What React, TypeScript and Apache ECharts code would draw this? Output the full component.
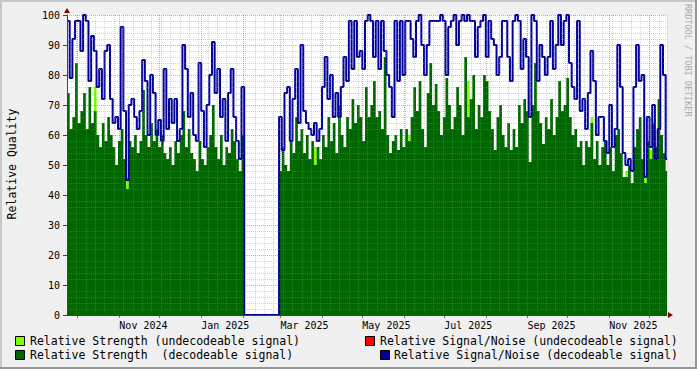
import React, { useEffect, useRef } from 'react';
import * as echarts from 'echarts';

// ---- time frame (2-day samples starting Sep 23 2024) ----
const START_DATE = [2024, 8, 23];
const SPAN_DAYS = 447;
const STEP_DAYS = 2;

// month grid lines and labels
const monthTicks = ['2024-10', '2024-11', '2024-12', '2025-01', '2025-02', '2025-03', '2025-04', '2025-05', '2025-06', '2025-07', '2025-08', '2025-09', '2025-10', '2025-11', '2025-12'];
const monthLabels = ['2024-11', '2025-01', '2025-03', '2025-05', '2025-07', '2025-09', '2025-11'];
const monthNames = ['Jan', 'Feb', 'Mar', 'Apr', 'May', 'Jun', 'Jul', 'Aug', 'Sep', 'Oct', 'Nov', 'Dec'];

// Relative Signal/Noise (decodeable signal)
const snDecoded = [
  98, 79, 92, 98, 98, 88, 100, 98, 78, 93, 88, 76, 82, 72, 88, 90, 72, 64, 66, 62,
  96, 68, 45, 70, 72, 66, 62, 68, 85, 78, 60, 80, 74, 60, 65, 58,
  82, 62, 72, 64, 72, 58, 62, 90, 82, 66, 74, 60, 58, 84, 68, 56, 70, 80, 91, 74,
  82, 66, 72, 58, 74, 82, 66, 58, 52, 76,
  0, 0, 0, 0, 0, 0, 0, 0, 0, 0, 0, 0, 0,
  66, 55, 74, 76, 58, 72, 82, 64, 90, 68, 64, 62, 60, 64, 58, 62, 76, 86, 72, 80,
  66, 74, 66, 76, 86, 78, 98, 82, 98, 86,
  88, 82, 98, 100, 98, 86, 98, 82, 98, 88, 80, 76, 66, 98, 78, 98, 80, 98, 98, 92,
  86, 98, 100, 90, 80, 90, 98, 98, 98, 98, 100, 98, 80, 96, 98, 100, 90,
  98, 100, 98, 100, 98, 98, 86, 96, 98, 100, 86, 98, 92, 90, 80, 86, 98, 98, 86, 78,
  98, 100, 98, 82, 92, 86, 66, 100, 98, 78, 90, 86, 80, 86, 98, 82,
  90, 100, 90, 98, 100, 84, 76, 72, 98, 68, 72, 62, 74, 88, 78, 60, 66, 66, 58, 54,
  70, 56, 62, 90, 76, 54, 50, 52, 48, 76, 90, 78, 80, 46, 66, 56, 70, 52, 62, 90,
  80, 52,
];

// Relative Strength (decodeable signal)
const strengthDecoded = [
  74, 62, 66, 84, 64, 68, 74, 62, 76, 64, 68, 60, 56, 64, 58, 66, 60, 56, 50, 58,
  62, 52, 42, 58, 56, 60, 54, 58, 75, 60, 56, 64, 58, 62, 56, 60,
  54, 52, 56, 50, 58, 54, 60, 68, 56, 62, 54, 52, 48, 58, 52, 50, 56, 60, 70, 56,
  52, 60, 50, 56, 54, 62, 58, 52, 48, 60,
  0, 0, 0, 0, 0, 0, 0, 0, 0, 0, 0, 0, 0,
  48, 56, 50, 48, 58, 54, 66, 58, 62, 54, 60, 52, 58, 50, 56, 52, 60, 56, 66, 58,
  64, 54, 70, 60, 56, 66, 62, 72, 64, 70,
  66, 58, 76, 66, 70, 78, 66, 68, 62, 86, 60, 54, 58, 60, 55, 62, 56, 62, 58, 66,
  76, 68, 78, 62, 56, 74, 84, 70, 77, 68, 60, 66, 79, 70, 62, 66, 76,
  70, 60, 86, 66, 72, 80, 62, 70, 66, 80, 78, 68, 62, 55, 66, 70, 60, 56, 64, 55,
  62, 56, 70, 64, 72, 68, 51, 70, 84, 68, 64, 57, 66, 62, 72, 60,
  66, 78, 68, 70, 79, 66, 60, 62, 56, 58, 50, 58, 56, 64, 52, 58, 50, 56, 58, 50,
  56, 48, 60, 62, 54, 46, 46, 50, 44, 56, 62, 66, 52, 44, 58, 52, 64, 56, 72, 60,
  54, 48,
];

// Relative Strength (undecodeable signal)
const strengthUndecoded = [
  0, 0, 0, 0, 0, 0, 0, 0, 0, 0, 76, 0, 0, 0, 0, 0,
  0, 0, 0, 0, 0, 0, 46, 0, 0, 0, 0, 0, 0, 0, 0, 0,
  0, 0, 0, 0, 0, 0, 0, 0, 0, 0, 0, 0, 0, 0, 0, 0,
  0, 0, 0, 0, 0, 0, 0, 0, 0, 0, 0, 0, 0, 0, 0, 0,
  0, 0, 0, 0, 0, 0, 0, 0, 0, 0, 0, 0, 0, 0, 0, 0,
  0, 0, 0, 0, 0, 0, 0, 0, 0, 0, 0, 0, 56, 0, 0, 0,
  0, 0, 0, 0, 0, 0, 0, 0, 0, 0, 0, 0, 0, 0, 0, 0,
  0, 0, 0, 0, 0, 0, 0, 0, 0, 0, 0, 0, 0, 0, 0, 60,
  0, 0, 0, 0, 0, 0, 0, 0, 0, 0, 0, 0, 0, 0, 0, 0,
  0, 0, 0, 0, 0, 78, 0, 0, 0, 0, 0, 0, 0, 0, 0, 0,
  0, 0, 0, 0, 0, 0, 0, 0, 0, 0, 0, 0, 0, 0, 0, 0,
  0, 0, 0, 0, 0, 0, 0, 0, 0, 0, 0, 0, 0, 0, 0, 0,
  0, 0, 0, 66, 0, 0, 0, 0, 0, 0, 0, 0, 0, 0, 0, 0,
  48, 0, 0, 0, 0, 0, 0, 47, 0, 55, 0, 0, 0, 0, 0, 0,
];

const legendItems = [
  { text: 'Relative Strength (undecodeable signal)', color: '#7FFF00' },
  { text: 'Relative Signal/Noise (undecodeable signal)', color: '#FF0000' },
  { text: 'Relative Strength  (decodeable signal)', color: '#006600' },
  { text: 'Relative Signal/Noise (decodeable signal)', color: '#000099' },
];

const FONT = '"DejaVu Sans Mono", monospace';
const DAY = 86400000;

export default function App() {
  const ref = useRef<HTMLDivElement>(null);
  useEffect(() => {
    if (!ref.current) return;
    const chart = echarts.init(ref.current, undefined, { renderer: 'svg' });
    const t0 = Date.UTC(START_DATE[0], START_DATE[1], START_DATE[2]);
    const dayOf = (s: string) => {
      const [y, m] = s.split('-').map(Number);
      return Math.round((Date.UTC(y, m - 1, 1) - t0) / DAY);
    };
    const toPts = (arr: number[]) => {
      const pts: any[] = arr.map((v, i) => [i * STEP_DAYS, v]);
      pts.push([SPAN_DAYS, arr[arr.length - 1]]);
      return pts;
    };
    const legendPos = [
      { bx: 15, by: 336, tx: 30, ty: 341 },
      { bx: 365, by: 336, tx: 380, ty: 341 },
      { bx: 15, by: 350, tx: 30, ty: 355 },
      { bx: 380, by: 350, tx: 394, ty: 355 },
    ];
    const legendGraphics: any[] = [];
    legendItems.forEach((it, k) => {
      const p = legendPos[k];
      legendGraphics.push({
        type: 'rect',
        shape: { x: p.bx + 0.5, y: p.by + 0.5, width: 9, height: 9 },
        style: { fill: it.color, stroke: '#000', lineWidth: 1 },
        z: 10,
      });
      legendGraphics.push({
        type: 'text',
        x: p.tx,
        y: p.ty,
        style: { text: it.text, font: `11.5px ${FONT}`, fill: '#000', verticalAlign: 'middle', align: 'left' },
        z: 10,
      });
    });

    const option: any = {
      animation: false,
      backgroundColor: '#F0F0F0',
      grid: { left: 67, top: 15, width: 600, height: 300, show: true, backgroundColor: '#FFFFFF', borderWidth: 0 },
      xAxis: [
        {
          type: 'value',
          min: 0,
          max: SPAN_DAYS,
          z: 3,
          axisLine: { show: true, lineStyle: { color: '#2C4D43', width: 1 } },
          axisTick: { show: true, customValues: monthTicks.map(dayOf), length: 3, lineStyle: { color: 'rgba(130,30,30,0.7)' } },
          axisLabel: {
            show: true,
            customValues: monthLabels.map(dayOf),
            formatter: (v: number) => {
              const d = new Date(t0 + v * DAY);
              return `${monthNames[d.getUTCMonth()]} ${d.getUTCFullYear()}`;
            },
            align: 'left',
            margin: 5,
            fontFamily: FONT,
            fontSize: 10,
            color: '#000',
          },
          splitLine: { show: true, lineStyle: { color: 'rgba(130,30,30,0.375)', type: [1, 1], width: 1 } },
        },
        {
          type: 'value',
          min: 0,
          max: SPAN_DAYS,
          interval: 7,
          position: 'bottom',
          z: 3,
          axisLine: { show: false },
          axisTick: { show: false },
          axisLabel: { show: false },
          splitLine: { show: true, lineStyle: { color: 'rgba(140,140,140,0.375)', type: [1, 1], width: 1 } },
        },
      ],
      yAxis: {
        type: 'value',
        min: 0,
        max: 100,
        interval: 10,
        z: 3,
        axisLine: { show: true, lineStyle: { color: '#2C4D43', width: 1 } },
        axisTick: { show: true, length: 4, lineStyle: { color: '#2C4D43' } },
        axisLabel: { margin: 7, fontFamily: FONT, fontSize: 10, color: '#000' },
        splitLine: { show: true, lineStyle: { color: 'rgba(130,30,30,0.375)', type: [1, 1], width: 1 } },
        minorTick: { show: false, splitNumber: 5 },
        minorSplitLine: { show: true, lineStyle: { color: 'rgba(140,140,140,0.375)', type: [1, 1], width: 1 } },
      },
      series: [
        {
          name: 'Relative Strength (undecodeable signal)',
          type: 'line',
          step: 'end',
          data: toPts(strengthUndecoded),
          showSymbol: false,
          symbol: 'none',
          lineStyle: { width: 0 },
          areaStyle: { color: '#7FFF00', opacity: 1 },
          z: 1,
        },
        {
          name: 'Relative Strength (decodeable signal)',
          type: 'line',
          step: 'end',
          data: toPts(strengthDecoded),
          showSymbol: false,
          symbol: 'none',
          lineStyle: { width: 0 },
          areaStyle: { color: '#006600', opacity: 1 },
          z: 1,
        },
        {
          name: 'Relative Signal/Noise (decodeable signal)',
          type: 'line',
          step: 'end',
          data: toPts(snDecoded),
          showSymbol: false,
          symbol: 'none',
          lineStyle: { width: 2, color: '#000099' },
          z: 2,
        },
      ],
      graphic: [
        { type: 'line', shape: { x1: 0, y1: 1, x2: 697, y2: 1 }, style: { stroke: '#C8C8C8', lineWidth: 2 } },
        { type: 'line', shape: { x1: 1, y1: 0, x2: 1, y2: 369 }, style: { stroke: '#C8C8C8', lineWidth: 2 } },
        { type: 'line', shape: { x1: 0, y1: 368, x2: 697, y2: 368 }, style: { stroke: '#969696', lineWidth: 2 } },
        { type: 'line', shape: { x1: 696, y1: 0, x2: 696, y2: 369 }, style: { stroke: '#969696', lineWidth: 2 } },
        { type: 'polygon', shape: { points: [[64, 13], [67, 8], [70, 13]] }, style: { fill: '#7F0000' }, z: 10 },
        { type: 'polygon', shape: { points: [[668, 312], [673, 315], [668, 318]] }, style: { fill: '#7F0000' }, z: 10 },
        {
          type: 'text',
          x: 12,
          y: 164,
          rotation: Math.PI / 2,
          style: { text: 'Relative Quality', font: `11.5px ${FONT}`, fill: '#000', align: 'center', verticalAlign: 'middle' },
        },
        {
          type: 'text',
          x: 688,
          y: 4,
          rotation: -Math.PI / 2,
          style: { text: 'RRDTOOL / TOBI OETIKER', font: `8.5px ${FONT}`, fill: '#AAAAAA', align: 'left', verticalAlign: 'middle' },
        },
        ...legendGraphics,
      ],
    };
    chart.setOption(option);
    return () => chart.dispose();
  }, []);
  return <div ref={ref} style={{ position: 'absolute', left: 0, top: 0, width: 697, height: 369 }} />;
}
